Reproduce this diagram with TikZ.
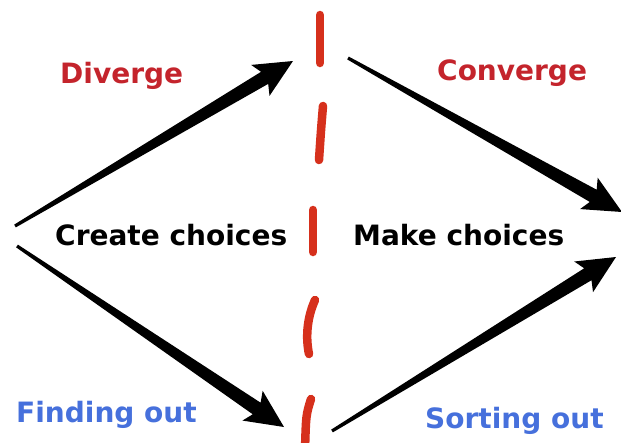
\documentclass[tikz,border=0pt]{standalone}
\usepackage{fontspec}
\setmainfont{DejaVu Sans}
\usetikzlibrary{calc}
\definecolor{dashred}{RGB}{214,48,28}
\definecolor{txtred}{RGB}{196,36,44}
\definecolor{txtblue}{RGB}{70,112,220}
\newcommand\taperarrow[2]{%
  \fill[black] ($(#1)!1.6pt!90:(#2)$)
    -- ($($(#2)!33pt!(#1)$)!7pt!90:(#2)$)
    -- ($($(#2)!38pt!(#1)$)!18pt!90:(#2)$)
    -- (#2)
    -- ($($(#2)!38pt!(#1)$)!18pt!-90:(#2)$)
    -- ($($(#2)!33pt!(#1)$)!7pt!-90:(#2)$)
    -- ($(#1)!1.6pt!-90:(#2)$) -- cycle;}
\begin{document}
\begin{tikzpicture}[x=1pt,y=-1pt,
  lbl/.style={inner sep=0pt,anchor=base west,font=\bfseries\fontsize{28}{30}\selectfont},
  dashseg/.style={draw=dashred,line width=8.5pt,line cap=round}]
\fill[white] (0,0) rectangle (621,442);
\clip (0,0) rectangle (621,442);
% dashed divider
\draw[dashseg] (320,15) -- (320,63);
\draw[dashseg] (323,106) .. controls (321,130) .. (319,160);
\draw[dashseg] (313,210) -- (313,252);
\draw[dashseg] (315,300) .. controls (306,320) and (306,340) .. (309,354);
\draw[dashseg] (311,399) .. controls (306,415) .. (305,450);
% arrow end points
\coordinate (s1) at (15,226);
\coordinate (t1) at (293,61);
\coordinate (s2) at (17,246);
\coordinate (t2) at (284,427);
\coordinate (s3) at (348,58);
\coordinate (t3) at (622,212);
\coordinate (s4) at (332,431);
\coordinate (t4) at (616,257);
\taperarrow{s1}{t1}
\taperarrow{s2}{t2}
\taperarrow{s3}{t3}
\taperarrow{s4}{t4}
% labels
\node[lbl,text=txtred] (div) at (60,83) {Diverge};
\node[lbl,text=txtred] (conv) at (437,80) {Converge};
\node[lbl,text=black] (create) at (55,245) {Create choices};
\node[lbl,text=black] (make) at (353,245) {Make choices};
\node[lbl,text=txtblue] (find) at (16,422) {Finding out};
\node[lbl,text=txtblue] (sort) at (425,428) {Sorting out};
\end{tikzpicture}
\end{document}
